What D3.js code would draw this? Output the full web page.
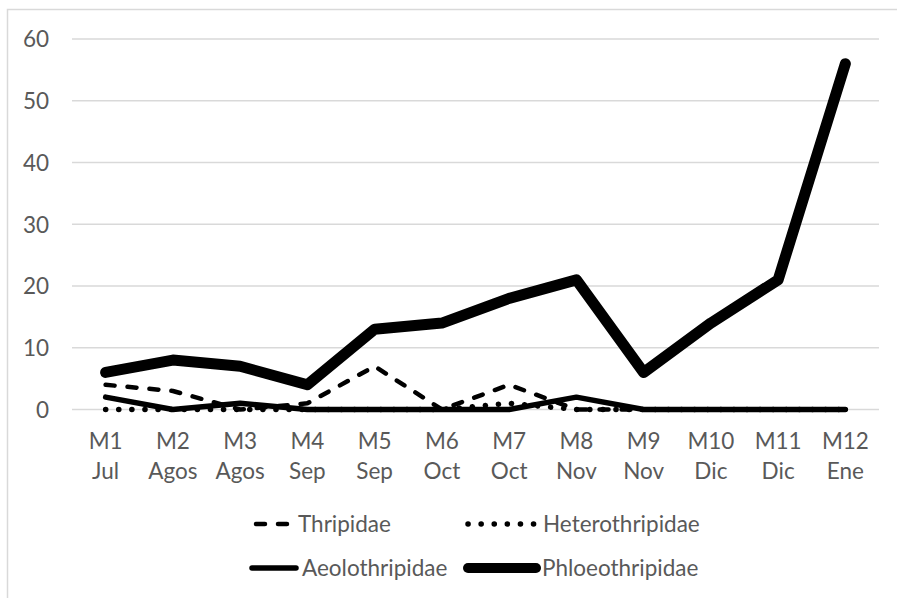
<!DOCTYPE html>
<html>
<head>
<meta charset="utf-8">
<script src="https://cdn.jsdelivr.net/npm/d3@7/dist/d3.min.js"></script>
<style>
  html, body { margin: 0; padding: 0; background: #fff; }
  svg { display: block; }
  text { font-family: Lato, "Open Sans", sans-serif; fill: #595959; }
</style>
</head>
<body>
<svg id="chart" width="897" height="598"></svg>
<script>
// Monthly samples (month code + month name)
const sampleCodes = ["M1", "M2", "M3", "M4", "M5", "M6", "M7", "M8", "M9", "M10", "M11", "M12"];
const sampleMonths = ["Jul", "Agos", "Agos", "Sep", "Sep", "Oct", "Oct", "Nov", "Nov", "Dic", "Dic", "Ene"];

// Counts per family
const thripidae       = [4, 3, 0, 1, 7, 0, 4, 0, 0, 0, 0, 0];
const heterothripidae = [0, 0, 0, 0, 0, 0, 1, 0, 0, 0, 0, 0];
const aeolothripidae  = [2, 0, 1, 0, 0, 0, 0, 2, 0, 0, 0, 0];
const phloeothripidae = [6, 8, 7, 4, 13, 14, 18, 21, 6, 14, 21, 56];

const yTicks = [0, 10, 20, 30, 40, 50, 60];

const series = [
  { name: "Thripidae",       values: thripidae,       width: 4.5, dash: "9,13" },
  { name: "Heterothripidae", values: heterothripidae, width: 5.5, dash: "0.1,13" },
  { name: "Aeolothripidae",  values: aeolothripidae,  width: 5.5, dash: null },
  { name: "Phloeothripidae", values: phloeothripidae, width: 11,  dash: null }
];

const FONT = 22.5;
const svg = d3.select("#chart");

// outer chart frame
svg.append("rect")
  .attr("x", 7.5).attr("y", 9.5)
  .attr("width", 920).attr("height", 620)
  .attr("fill", "none").attr("stroke", "#d9d9d9").attr("stroke-width", 1.5);

const plot = { left: 72, right: 879, top: 39, bottom: 409.5 };

const x = d3.scaleBand()
  .domain(sampleCodes)
  .range([plot.left, plot.right]);

const y = d3.scaleLinear()
  .domain([0, 60])
  .range([plot.bottom, plot.top]);

// horizontal gridlines
svg.append("g")
  .selectAll("line")
  .data(yTicks)
  .join("line")
  .attr("x1", plot.left).attr("x2", plot.right)
  .attr("y1", d => y(d)).attr("y2", d => y(d))
  .attr("stroke", "#d9d9d9").attr("stroke-width", 1.5);

// y axis labels
const yAxis = d3.axisLeft(y).tickValues(yTicks).tickSize(0).tickPadding(0);
svg.append("g")
  .attr("transform", `translate(49,0)`)
  .call(yAxis)
  .call(g => g.select(".domain").remove())
  .call(g => g.selectAll("text")
    .attr("font-family", "Lato, 'Open Sans', sans-serif")
    .attr("font-size", FONT)
    .attr("fill", "#595959")
    .attr("dy", "0.35em"));

// category labels on two lines
const xl = svg.append("g")
  .selectAll("text")
  .data(sampleCodes)
  .join("text")
  .attr("text-anchor", "middle")
  .attr("font-size", FONT)
  .attr("x", d => x(d) + x.bandwidth() / 2);
xl.append("tspan")
  .attr("y", 449)
  .attr("x", d => x(d) + x.bandwidth() / 2)
  .text(d => d);
xl.append("tspan")
  .attr("y", 479)
  .attr("x", d => x(d) + x.bandwidth() / 2)
  .text((d, i) => sampleMonths[i]);

// series lines
const line = d3.line()
  .x((d, i) => x(sampleCodes[i]) + x.bandwidth() / 2)
  .y(d => y(d));

svg.append("g")
  .selectAll("path")
  .data(series)
  .join("path")
  .attr("d", d => line(d.values))
  .attr("fill", "none")
  .attr("stroke", "#000")
  .attr("stroke-width", d => d.width)
  .attr("stroke-linecap", "round")
  .attr("stroke-linejoin", "round")
  .attr("stroke-dasharray", d => d.dash);

// legend, two rows by two columns
const legendPos = [
  { x: 256, y: 524 }, { x: 468, y: 524 },
  { x: 252, y: 568 }, { x: 468, y: 568 }
];
const legendLen = [36, 66, 44, 68];
const legend = svg.append("g")
  .selectAll("g")
  .data(series)
  .join("g")
  .attr("transform", (d, i) => `translate(${legendPos[i].x},${legendPos[i].y})`);
legend.append("line")
  .attr("x1", 0).attr("x2", (d, i) => legendLen[i])
  .attr("y1", 0).attr("y2", 0)
  .attr("stroke", "#000")
  .attr("stroke-width", (d, i) => i === 3 ? 10 : d.width)
  .attr("stroke-linecap", "round")
  .attr("stroke-dasharray", d => d.dash);
legend.append("text")
  .attr("x", (d, i) => legendLen[i] + (i === 1 ? 9 : 6))
  .attr("y", 0)
  .attr("dy", "0.35em")
  .attr("font-size", FONT)
  .text(d => d.name);
</script>
</body>
</html>
